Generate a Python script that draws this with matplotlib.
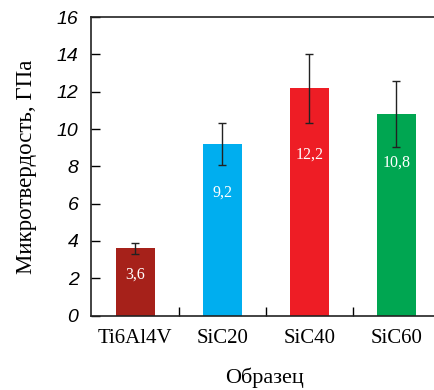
import matplotlib
matplotlib.use("Agg")
import matplotlib.pyplot as plt
import numpy as np

# ── Data ──────────────────────────────────────────────────
samples  = ["Ti6Al4V", "SiC20", "SiC40", "SiC60"]
hardness = [3.6, 9.2, 12.2, 10.8]
errors   = [0.3, 1.15, 1.85, 1.75]
labels   = ["3,6", "9,2", "12,2", "10,8"]
colors   = ["#A6211A", "#00AEEF", "#EE1D25", "#00A651"]

# where the white value text sits inside each bar
label_y  = [2.2, 6.6, 8.65, 8.2]

SERIF = "Liberation Serif"
SANS  = "Liberation Sans"

fig = plt.figure(figsize=(4.34, 3.90), dpi=100)
ax = fig.add_axes([0.2097, 0.191, 0.80, 0.765])

x = np.arange(len(samples))
ax.bar(x, hardness, width=0.44, color=colors, linewidth=0, zorder=2)
ax.errorbar(x, hardness, yerr=errors, fmt="none", ecolor="#222222",
            elinewidth=1.0, capsize=2.6, capthick=1.0, zorder=3)

for xi, yi, txt in zip(x, label_y, labels):
    ax.text(xi, yi, txt, ha="center", va="center", color="white",
            fontsize=11.5, family=SERIF, zorder=4)

ax.set_xlim(-0.51, 3.48)
ax.set_ylim(0, 16)

# y axis
ax.set_yticks(np.arange(0, 17, 2))
ax.tick_params(axis="y", direction="in", length=6.5, width=1.0, pad=9)
for t in ax.get_yticklabels():
    t.set_fontfamily(SANS)
    t.set_fontstyle("italic")
    t.set_fontsize(14)

# x axis: tick marks between bars, labels under bars
ax.set_xticks([0.5, 1.5, 2.5])
ax.set_xticklabels([])
ax.tick_params(axis="x", which="major", direction="in", length=6.5, width=1.0)
ax.set_xticks(x, minor=True)
ax.set_xticklabels(samples, minor=True, fontsize=15, family=SERIF)
ax.tick_params(axis="x", which="minor", length=0, pad=9.5)

ax.set_xlabel("Образец", fontsize=16, family=SERIF, labelpad=14)
ax.set_ylabel("Микротвердость, ГПа", fontsize=16.5, family=SERIF, labelpad=14)

for s in ["left", "bottom", "top"]:
    ax.spines[s].set_linewidth(1.2)
    ax.spines[s].set_color("#222222")
ax.spines["right"].set_visible(False)

fig.savefig("out.png", dpi=100)
